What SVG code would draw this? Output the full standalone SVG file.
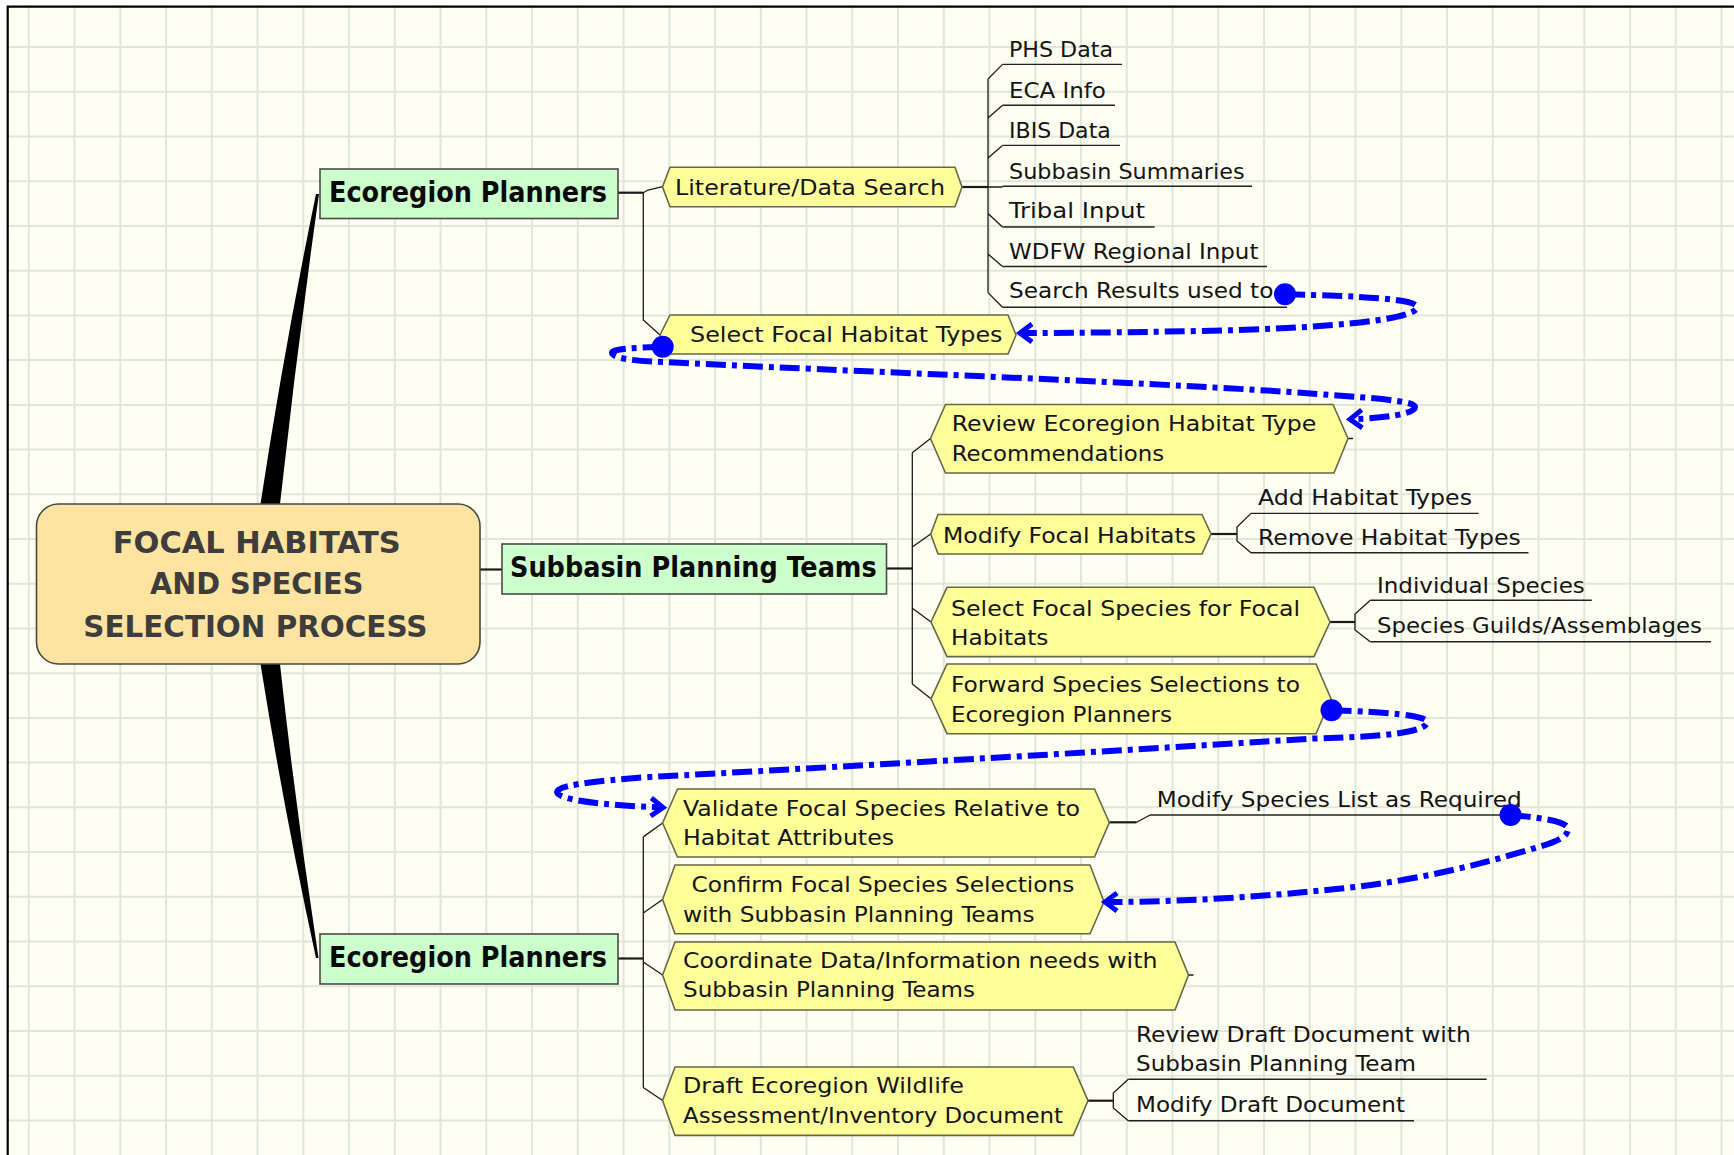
<svg xmlns="http://www.w3.org/2000/svg" width="1734" height="1155" viewBox="0 0 1734 1155">
<defs>
<style>
.bg{fill:#fefef2}
.grid{fill:none;stroke:#dfe7da;stroke-width:2}
.frame{fill:none;stroke:#000;stroke-width:2.2}
.hex{fill:#ffff99;stroke:#66664a;stroke-width:1.6}
.topic{fill:#ccffcc;stroke:#4a4a4a;stroke-width:1.6}
.central{fill:#ffe3a0;stroke:#474747;stroke-width:1.6}
.t{font-family:'DejaVu Sans Condensed','DejaVu Sans','Liberation Sans',sans-serif;font-stretch:condensed;font-size:22px;fill:#141414}
.tb{font-family:'DejaVu Sans Condensed','DejaVu Sans','Liberation Sans',sans-serif;font-stretch:condensed;font-size:27.5px;font-weight:bold;fill:#0a0a0a}
.tc{font-family:'DejaVu Sans Condensed','DejaVu Sans','Liberation Sans',sans-serif;font-stretch:condensed;font-size:30px;font-weight:bold;fill:#3d3d3d}
.ul{fill:none;stroke:#222;stroke-width:1.4}
.ln{fill:none;stroke:#1a1a1a;stroke-width:1.3}
.lnb{fill:none;stroke:#1a1a1a;stroke-width:2.2}
.wedge{fill:#000}
.rel{fill:none;stroke:#0000ff;stroke-width:6;stroke-dasharray:20 6 5 6;marker-start:url(#dot);marker-end:url(#arr)}
</style>
<marker id="dot" markerUnits="userSpaceOnUse" overflow="visible" refX="0" refY="0" markerWidth="1" markerHeight="1" orient="0">
<circle cx="0" cy="0" r="11" fill="#0000ff"/>
</marker>
<marker id="arr" markerUnits="userSpaceOnUse" overflow="visible" refX="0" refY="0" markerWidth="1" markerHeight="1" orient="auto">
<path d="M-12,-9 L0,0 L-12,9" fill="none" stroke="#0000ff" stroke-width="5"/>
</marker>
</defs>

<rect x="0" y="0" width="1734" height="1155" fill="#ffffff"/>
<rect class="bg" x="7.7" y="6.6" width="1727" height="1149"/>
<path class="grid" d="M28.8,7V1155 M74.55,7V1155 M120.3,7V1155 M166.05,7V1155 M211.8,7V1155 M257.55,7V1155 M303.3,7V1155 M349.05,7V1155 M394.8,7V1155 M440.55,7V1155 M486.3,7V1155 M532.05,7V1155 M577.8,7V1155 M623.55,7V1155 M669.3,7V1155 M715.05,7V1155 M760.8,7V1155 M806.55,7V1155 M852.3,7V1155 M898.05,7V1155 M943.8,7V1155 M989.55,7V1155 M1035.3,7V1155 M1081.05,7V1155 M1126.8,7V1155 M1172.55,7V1155 M1218.3,7V1155 M1264.05,7V1155 M1309.8,7V1155 M1355.55,7V1155 M1401.3,7V1155 M1447.05,7V1155 M1492.8,7V1155 M1538.55,7V1155 M1584.3,7V1155 M1630.05,7V1155 M1675.8,7V1155 M1721.55,7V1155 M8,47.1H1734 M8,91.8H1734 M8,136.5H1734 M8,181.3H1734 M8,226H1734 M8,270.7H1734 M8,315.4H1734 M8,360.1H1734 M8,404.9H1734 M8,449.6H1734 M8,494.3H1734 M8,539H1734 M8,583.7H1734 M8,628.5H1734 M8,673.2H1734 M8,717.9H1734 M8,762.6H1734 M8,807.3H1734 M8,852.1H1734 M8,896.8H1734 M8,941.5H1734 M8,986.2H1734 M8,1030.9H1734 M8,1075.7H1734 M8,1120.4H1734"/>
<path class="frame" d="M7.7,1155V6.6H1734"/>

<g id="connectors">
<path class="wedge" d="M260.5,504 Q284,349 316,194 L319,194 Q297,349 280,504 Z"/>
<path class="wedge" d="M260.5,664 Q284,811 316,958 L318.5,958 Q296,811 280,664 Z"/>
<path class="lnb" d="M480,569.5H502"/>
<path class="lnb" d="M618,192.7H643.3"/>
<path class="ln" d="M643.3,192.7V320 L660,335 M643.3,192.7 L648,190 L662.5,186.7"/>
<path class="lnb" d="M962,187H988"/>
<path class="ln" d="M988,187H1002.5 M988,79V292.6 M988,79 L1002.5,64.4 M988,118 L1002.5,105.3 M988,158 L1002.5,145.4 M988,213.5 L1002.5,227 M988,254 L1002.5,266.5 M988,292.6 L1002.5,307.3"/>
<path class="lnb" d="M886.5,568.5H912.3"/>
<path class="ln" d="M912.3,452.7V684 M912.3,452.7 L930.5,438.5 M912.3,547 L930.7,534 M912.3,608.3 L931,622 M912.3,684 L931,698.8"/>
<path class="ln" d="M1348,438.5H1353 M1188.5,975H1193.5"/>
<path class="lnb" d="M1211,534H1237"/>
<path class="ln" d="M1251,513.4 L1237,527 V541 L1251,552.8"/>
<path class="lnb" d="M1330,622H1355"/>
<path class="ln" d="M1370.3,600.2 L1355,614 V630 L1370.3,641.7"/>
<path class="lnb" d="M618,958.5H643.3"/>
<path class="ln" d="M643.3,836.9V1087.5 M643.3,836.9 L662.6,823 M643.3,913 L662.6,899.5 M643.3,962 L662.6,975 M643.3,1087.5 L662.6,1100.5"/>
<path class="lnb" d="M1109.3,822.3H1136.7"/>
<path class="ln" d="M1136.7,822.3 L1150,815"/>
<path class="lnb" d="M1088,1100.7H1113.3"/>
<path class="ln" d="M1128.3,1079.3 L1113.3,1093 V1108 L1128.3,1120.7"/>
</g>

<g id="central">
<rect class="central" x="36.5" y="504" width="443.5" height="160" rx="22" ry="22"/>
<text class="tc" x="112.7" y="552.7" textLength="288" lengthAdjust="spacingAndGlyphs">FOCAL HABITATS</text>
<text class="tc" x="150" y="594" textLength="213.3" lengthAdjust="spacingAndGlyphs">AND SPECIES</text>
<text class="tc" x="83.3" y="636.7" textLength="344" lengthAdjust="spacingAndGlyphs">SELECTION PROCESS</text>
</g>

<g id="ecoregion-top">
<rect class="topic" x="320" y="169" width="298" height="49.5"/>
<text class="tb" x="329" y="202" textLength="278" lengthAdjust="spacingAndGlyphs">Ecoregion Planners</text>
</g>

<g id="subbasin">
<rect class="topic" x="502" y="544" width="384.5" height="50"/>
<text class="tb" x="510" y="576.7" textLength="366.7" lengthAdjust="spacingAndGlyphs">Subbasin Planning Teams</text>
</g>

<g id="ecoregion-bottom">
<rect class="topic" x="320" y="934" width="298" height="50"/>
<text class="tb" x="329" y="967" textLength="278" lengthAdjust="spacingAndGlyphs">Ecoregion Planners</text>
</g>

<g id="literature">
<polygon class="hex" points="670,167.3 955,167.3 962,187 955,206.7 670,206.7 662.5,187"/>
<text class="t" x="675" y="195" textLength="270" lengthAdjust="spacingAndGlyphs">Literature/Data Search</text>
</g>

<g id="phs">
<text class="t" x="1009" y="57" textLength="104" lengthAdjust="spacingAndGlyphs">PHS Data</text>
<path class="ul" d="M1002.5,64.4H1122"/>
</g>
<g id="eca">
<text class="t" x="1009" y="97.5" textLength="96.8" lengthAdjust="spacingAndGlyphs">ECA Info</text>
<path class="ul" d="M1002.5,105.3H1115"/>
</g>
<g id="ibis">
<text class="t" x="1009" y="138" textLength="101.8" lengthAdjust="spacingAndGlyphs">IBIS Data</text>
<path class="ul" d="M1002.5,145.4H1120"/>
</g>
<g id="subbasin-summaries">
<text class="t" x="1009" y="178.5" textLength="235.6" lengthAdjust="spacingAndGlyphs">Subbasin Summaries</text>
<path class="ul" d="M1002.5,186.2H1252"/>
</g>
<g id="tribal">
<text class="t" x="1009" y="218.2" textLength="136" lengthAdjust="spacingAndGlyphs">Tribal Input</text>
<path class="ul" d="M1002.5,227H1154.6"/>
</g>
<g id="wdfw">
<text class="t" x="1009" y="258.7" textLength="249.4" lengthAdjust="spacingAndGlyphs">WDFW Regional Input</text>
<path class="ul" d="M1002.5,266.5H1267"/>
</g>
<g id="search-results">
<text class="t" x="1009" y="298.3" textLength="264.4" lengthAdjust="spacingAndGlyphs">Search Results used to</text>
<path class="ul" d="M1002.5,307.3H1287"/>
</g>

<g id="select-habitat">
<polygon class="hex" points="670,315 1008,315 1016,335 1008,354 670,354 660,335"/>
<text class="t" x="690" y="342.3" textLength="312.5" lengthAdjust="spacingAndGlyphs">Select Focal Habitat Types</text>
</g>

<g id="review-ecoregion">
<polygon class="hex" points="945.5,404.5 1333,404.5 1348,438.5 1334,473 945.5,473 930.5,438.5"/>
<text class="t" x="951.7" y="431" textLength="364.5" lengthAdjust="spacingAndGlyphs">Review Ecoregion Habitat Type</text>
<text class="t" x="951.7" y="460.8" textLength="212.4" lengthAdjust="spacingAndGlyphs">Recommendations</text>
</g>

<g id="modify-habitats">
<polygon class="hex" points="938,514.5 1202,514.5 1211,534 1202,554 938,554 930.7,534"/>
<text class="t" x="943" y="543" textLength="253" lengthAdjust="spacingAndGlyphs">Modify Focal Habitats</text>
</g>
<g id="add-habitat">
<text class="t" x="1258" y="505" textLength="214" lengthAdjust="spacingAndGlyphs">Add Habitat Types</text>
<path class="ul" d="M1251,513.4H1478.7"/>
</g>
<g id="remove-habitat">
<text class="t" x="1258" y="544.7" textLength="262.7" lengthAdjust="spacingAndGlyphs">Remove Habitat Types</text>
<path class="ul" d="M1251,552.8H1528.5"/>
</g>

<g id="select-species">
<polygon class="hex" points="947,587.3 1314,587.3 1330,622 1314,656.6 947,656.6 931,622"/>
<text class="t" x="951" y="615.7" textLength="349" lengthAdjust="spacingAndGlyphs">Select Focal Species for Focal</text>
<text class="t" x="951" y="645.2" textLength="97.4" lengthAdjust="spacingAndGlyphs">Habitats</text>
</g>
<g id="individual-species">
<text class="t" x="1377" y="593" textLength="207.8" lengthAdjust="spacingAndGlyphs">Individual Species</text>
<path class="ul" d="M1370.3,600.2H1591.7"/>
</g>
<g id="species-guilds">
<text class="t" x="1377" y="632.5" textLength="325" lengthAdjust="spacingAndGlyphs">Species Guilds/Assemblages</text>
<path class="ul" d="M1370.3,641.7H1711"/>
</g>

<g id="forward-species">
<polygon class="hex" points="947,664 1316,664 1331,698.8 1316,733.7 947,733.7 931,698.8"/>
<text class="t" x="951" y="692" textLength="349" lengthAdjust="spacingAndGlyphs">Forward Species Selections to</text>
<text class="t" x="951" y="721.5" textLength="221" lengthAdjust="spacingAndGlyphs">Ecoregion Planners</text>
</g>

<g id="validate">
<polygon class="hex" points="677.5,789 1094.5,789 1109.3,822.5 1094.5,857 677.5,857 662.6,823"/>
<text class="t" x="683" y="815.9" textLength="397" lengthAdjust="spacingAndGlyphs">Validate Focal Species Relative to</text>
<text class="t" x="683" y="845.3" textLength="211" lengthAdjust="spacingAndGlyphs">Habitat Attributes</text>
</g>
<g id="modify-species-list">
<text class="t" x="1156.7" y="806.7" textLength="365" lengthAdjust="spacingAndGlyphs">Modify Species List as Required</text>
<path class="ul" d="M1150,815H1512"/>
</g>

<g id="confirm">
<polygon class="hex" points="675,865 1090,865 1104,901.7 1090,933.8 675,933.8 662.6,899.5"/>
<text class="t" x="691.4" y="892" textLength="383" lengthAdjust="spacingAndGlyphs">Confirm Focal Species Selections</text>
<text class="t" x="683" y="921.6" textLength="351.6" lengthAdjust="spacingAndGlyphs">with Subbasin Planning Teams</text>
</g>

<g id="coordinate">
<polygon class="hex" points="675,942 1175,942 1188.5,975 1175,1010 675,1010 662.6,975"/>
<text class="t" x="683" y="968.4" textLength="474.4" lengthAdjust="spacingAndGlyphs">Coordinate Data/Information needs with</text>
<text class="t" x="683" y="997.2" textLength="292" lengthAdjust="spacingAndGlyphs">Subbasin Planning Teams</text>
</g>

<g id="draft">
<polygon class="hex" points="675,1067 1073.3,1067 1088,1100.6 1073.3,1135.4 675,1135.4 662.6,1100.5"/>
<text class="t" x="683" y="1093" textLength="280.8" lengthAdjust="spacingAndGlyphs">Draft Ecoregion Wildlife</text>
<text class="t" x="683" y="1122.5" textLength="380" lengthAdjust="spacingAndGlyphs">Assessment/Inventory Document</text>
</g>
<g id="review-draft">
<text class="t" x="1136" y="1041.7" textLength="334.7" lengthAdjust="spacingAndGlyphs">Review Draft Document with</text>
<text class="t" x="1136" y="1071" textLength="280" lengthAdjust="spacingAndGlyphs">Subbasin Planning Team</text>
<path class="ul" d="M1128.3,1079.3H1486.7"/>
</g>
<g id="modify-draft">
<text class="t" x="1136" y="1111.7" textLength="269" lengthAdjust="spacingAndGlyphs">Modify Draft Document</text>
<path class="ul" d="M1128.3,1120.7H1414"/>
</g>

<g id="relationships">
<path class="rel" d="M1285,294.3 C1360,296 1417,299 1417,307 C1417,321 1310,329 1200,331 C1120,332.5 1060,333 1020,333"/>
<path class="rel" d="M662.7,346.7 C632,348 612,349 612,352.5 C612,358 632,361 662,362 C820,370 1200,384 1330,395 C1390,399 1415,402 1415,407 C1415,414 1385,418 1350,419.3"/>
<path class="rel" d="M1331.5,710.3 C1385,712 1427,715 1427,722 C1427,732 1385,737 1313,738.5 C1100,752 820,768 650,777 C590,781 556,786 557,792 C558,800 600,805 663,807.5"/>
<path class="rel" d="M1510.6,815 C1545,818 1568,822 1568,829 C1568,837 1555,842 1540,846.5 C1480,865 1410,882 1336,889 C1260,897 1180,902 1105,902"/>
</g>
</svg>
